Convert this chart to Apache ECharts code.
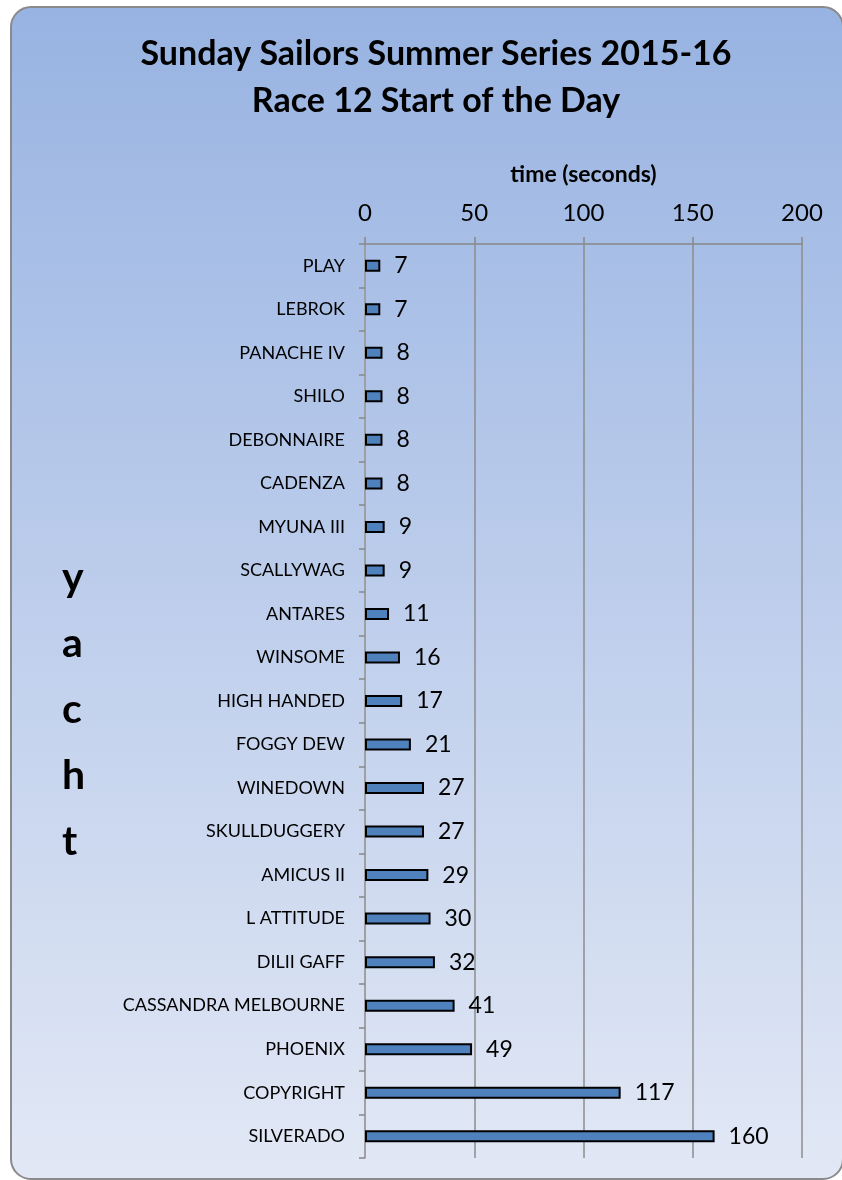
<!DOCTYPE html>
<html>
<head>
<meta charset="utf-8">
<script src="https://cdn.jsdelivr.net/npm/echarts@6/dist/echarts.min.js"></script>
<style>
html,body{margin:0;padding:0;background:#fff;}
#c{width:842px;height:1180px;}
</style>
</head>
<body>
<div id="c"></div>
<script>
var titleLines = ['Sunday Sailors Summer Series 2015-16', 'Race 12 Start of the Day'];
var xAxisName = 'time (seconds)';
var yAxisName = 'yacht';
var categories = ['PLAY','LEBROK','PANACHE IV','SHILO','DEBONNAIRE','CADENZA','MYUNA III','SCALLYWAG','ANTARES','WINSOME','HIGH HANDED','FOGGY DEW','WINEDOWN','SKULLDUGGERY','AMICUS II','L ATTITUDE','DILII GAFF','CASSANDRA MELBOURNE','PHOENIX','COPYRIGHT','SILVERADO'];
var times = [7,7,8,8,8,8,9,9,11,16,17,21,27,27,29,30,32,41,49,117,160];
var xMin = 0, xMax = 200, xInterval = 50;

var FONT = 'Lato, "Open Sans", sans-serif';
var chart = echarts.init(document.getElementById('c'), null, {renderer:'canvas'});
chart.setOption({
  animation: false,
  textStyle: {fontFamily: FONT},
  title: {
    text: titleLines.join('\n'),
    left: 431,
    textAlign: 'center',
    top: 26,
    textStyle: {fontFamily: FONT, fontSize: 34, fontWeight: 'bold', color: '#000', lineHeight: 47}
  },
  graphic: [
    {
      type: 'rect', z: -10, silent: true,
      shape: {x: 11, y: 7, width: 832, height: 1172, r: 20},
      style: {
        fill: new echarts.graphic.LinearGradient(0, 0, 0, 1, [
          {offset: 0, color: '#98b3e2'},
          {offset: 1, color: '#e2e8f5'}
        ]),
        stroke: '#8a8a8a', lineWidth: 2
      }
    },
    {
      type: 'text', silent: true,
      left: 62, top: 545,
      style: {
        text: yAxisName.split('').join('\n'),
        font: 'bold 41px ' + FONT,
        lineHeight: 66,
        fill: '#000',
        align: 'center'
      }
    }
  ],
  grid: {left: 365, right: 40, top: 244, bottom: 22, containLabel: false},
  xAxis: {
    type: 'value',
    position: 'top',
    min: xMin, max: xMax, interval: xInterval,
    name: xAxisName,
    nameLocation: 'middle',
    nameGap: 58,
    nameTextStyle: {fontFamily: FONT, fontSize: 23, fontWeight: 'bold', color: '#000'},
    axisLine: {show: true, lineStyle: {color: '#888', width: 1.5}},
    axisTick: {show: true, inside: false, length: 7, lineStyle: {color: '#888', width: 1.5}},
    axisLabel: {fontFamily: FONT, fontSize: 24, color: '#000', margin: 19},
    splitLine: {show: true, lineStyle: {color: '#8c8c8c', width: 1.5}}
  },
  yAxis: {
    type: 'category',
    data: categories,
    inverse: true,
    axisLine: {show: true, lineStyle: {color: '#a0a0a0', width: 1.5}},
    axisTick: {show: true, alignWithLabel: false, length: 6, lineStyle: {color: '#888', width: 1.5}},
    axisLabel: {fontFamily: FONT, fontSize: 18, color: '#000', margin: 20, padding: [10, 0, 0, 0]},
    splitLine: {show: false}
  },
  series: [{
    type: 'bar',
    data: times,
    barWidth: 12,
    itemStyle: {color: '#4f81bd', borderColor: '#000', borderWidth: 2},
    label: {show: true, position: 'right', distance: 14, fontFamily: FONT, fontSize: 23, color: '#000'}
  }]
});
</script>
</body>
</html>
